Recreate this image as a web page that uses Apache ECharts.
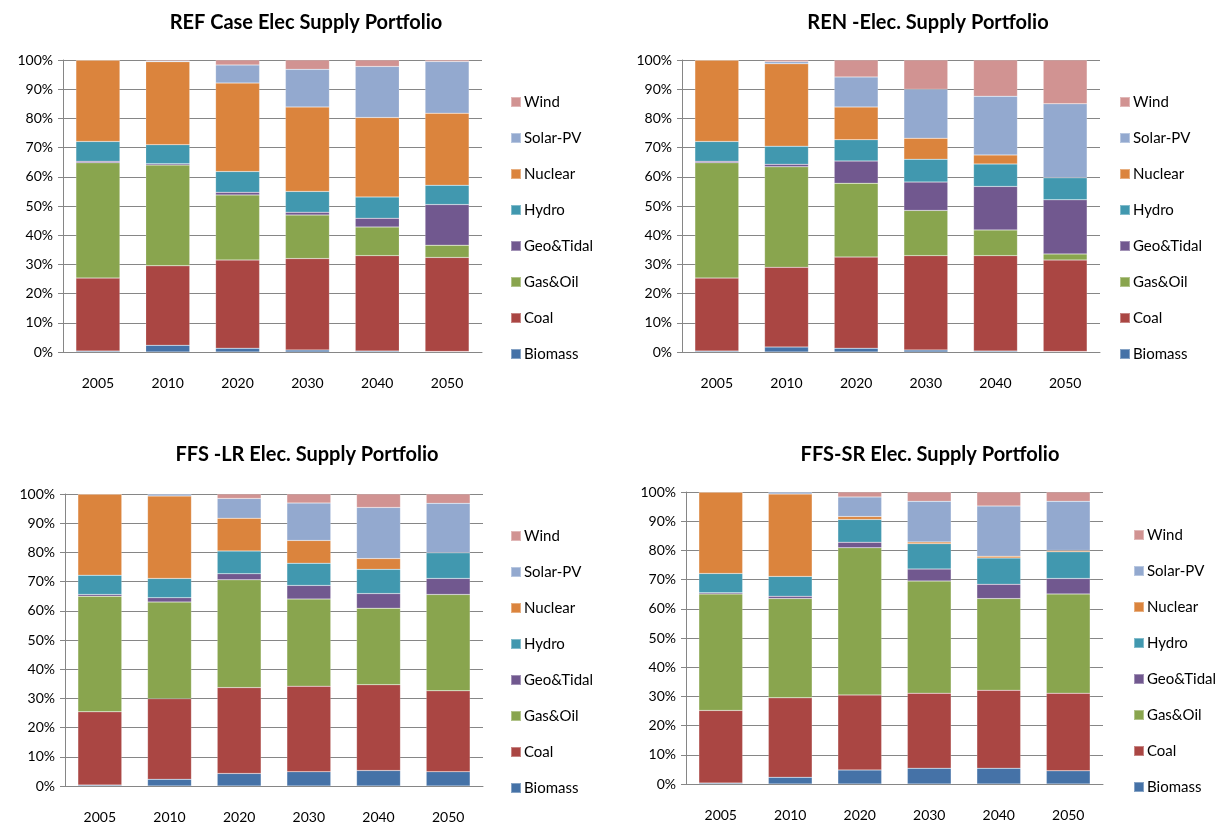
<!DOCTYPE html>
<html>
<head>
<meta charset="utf-8">
<title>Elec Supply Portfolio</title>
<script src="https://cdn.jsdelivr.net/npm/echarts@6/dist/echarts.min.js"></script>
<style>
  html, body { margin: 0; padding: 0; background: #fff; }
  #main { width: 1224px; height: 829px; }
</style>
</head>
<body>
<div id="main"></div>
<script>
// categories + legend order
var years = ['2005', '2010', '2020', '2030', '2040', '2050'];
var sources = ['Biomass', 'Coal', 'Gas&Oil', 'Geo&Tidal', 'Hydro', 'Nuclear', 'Solar-PV', 'Wind'];
var yTicks = [0, 10, 20, 30, 40, 50, 60, 70, 80, 90, 100];

// REF case (% share)
var refBiomass = [0.3, 2.3, 1.3, 0.7, 0.3, 0.2];
var refCoal    = [25.0, 27.2, 30.2, 31.3, 32.7, 32.2];
var refGas     = [39.5, 34.5, 22.3, 14.9, 9.8, 4.2];
var refGeo     = [0.5, 0.5, 0.9, 1.0, 3.0, 13.9];
var refHydro   = [6.8, 6.5, 7.1, 7.1, 7.3, 6.6];
var refNuclear = [27.9, 28.4, 30.3, 28.9, 27.2, 24.7];
var refSolar   = [0, 0.3, 6.2, 12.9, 17.5, 17.7];
var refWind    = [0, 0.3, 1.7, 3.2, 2.2, 0.5];

// REN
var renBiomass = [0.3, 1.7, 1.3, 0.7, 0.3, 0.2];
var renCoal    = [25.0, 27.3, 31.2, 32.3, 32.7, 31.3];
var renGas     = [39.5, 34.4, 25.3, 15.5, 8.8, 2.1];
var renGeo     = [0.5, 0.9, 7.6, 9.7, 14.9, 18.5];
var renHydro   = [6.8, 6.2, 7.3, 7.8, 7.7, 7.6];
var renNuclear = [27.9, 28.2, 11.2, 7.2, 3.1, 0];
var renSolar   = [0, 0.7, 10.3, 16.8, 20.1, 25.3];
var renWind    = [0, 0.6, 5.8, 10.0, 12.4, 15.0];

// FFS-LR
var lrBiomass = [0.3, 2.3, 4.3, 4.9, 5.3, 4.9];
var lrCoal    = [25.1, 27.6, 29.4, 29.3, 29.4, 27.7];
var lrGas     = [39.6, 33.1, 36.9, 29.8, 26.2, 33.0];
var lrGeo     = [0.6, 1.5, 2.1, 4.7, 5.0, 5.5];
var lrHydro   = [6.6, 6.6, 7.8, 7.6, 8.3, 8.8];
var lrNuclear = [27.8, 28.2, 11.2, 7.8, 3.7, 0];
var lrSolar   = [0, 0.7, 6.8, 12.8, 17.5, 16.9];
var lrWind    = [0, 0, 1.5, 3.1, 4.6, 3.2];

// FFS-SR
var srBiomass = [0.3, 2.3, 4.8, 5.4, 5.4, 4.5];
var srCoal    = [24.9, 27.2, 25.7, 25.7, 26.7, 26.6];
var srGas     = [39.9, 34.0, 50.4, 38.4, 31.4, 34.0];
var srGeo     = [0.4, 0.8, 1.9, 4.1, 4.9, 5.3];
var srHydro   = [6.6, 6.8, 7.8, 8.7, 9.0, 9.1];
var srNuclear = [27.9, 28.2, 1.0, 0.6, 0.6, 0.5];
var srSolar   = [0, 0.7, 6.7, 13.9, 17.2, 16.8];
var srWind    = [0, 0, 1.7, 3.2, 4.8, 3.2];

var colors = ['#4572A7', '#AA4643', '#89A54E', '#71588F', '#4198AF', '#DB843D', '#93A9CF', '#D19392'];

var panels = [
  { title: 'REF Case Elec Supply Portfolio', cx: 301, ty: 8,
    grid: { left: 63, top: 60, width: 419, height: 292 }, legend: { left: 505, top: 88 },
    data: [refBiomass, refCoal, refGas, refGeo, refHydro, refNuclear, refSolar, refWind] },
  { title: 'REN -Elec. Supply Portfolio', cx: 923, ty: 8,
    grid: { left: 682, top: 60, width: 418, height: 292 }, legend: { left: 1114, top: 88 },
    data: [renBiomass, renCoal, renGas, renGeo, renHydro, renNuclear, renSolar, renWind] },
  { title: 'FFS -LR Elec. Supply Portfolio', cx: 302, ty: 440,
    grid: { left: 65, top: 494, width: 418, height: 292 }, legend: { left: 505, top: 522 },
    data: [lrBiomass, lrCoal, lrGas, lrGeo, lrHydro, lrNuclear, lrSolar, lrWind] },
  { title: 'FFS-SR Elec. Supply Portfolio', cx: 925, ty: 440,
    grid: { left: 686, top: 492, width: 417, height: 292 }, legend: { left: 1128, top: 521 },
    data: [srBiomass, srCoal, srGas, srGeo, srHydro, srNuclear, srSolar, srWind] }
];

var font = 'Lato, "Open Sans", sans-serif';
var option = {
  backgroundColor: '#fff',
  animation: false,
  color: colors,
  title: [], grid: [], xAxis: [], yAxis: [], legend: [], series: []
};

panels.forEach(function (p, i) {
  option.title.push({
    text: p.title, left: p.cx, top: p.ty, textAlign: 'center',
    textStyle: { fontFamily: font, fontSize: 20, fontWeight: 'bold', color: '#000' }
  });
  option.grid.push(p.grid);
  option.xAxis.push({
    type: 'category', gridIndex: i, data: years,
    axisLine: { lineStyle: { color: '#868686' } },
    axisTick: { show: false },
    axisLabel: { color: '#000', fontFamily: font, fontSize: 14, margin: 24 }
  });
  option.yAxis.push({
    type: 'value', gridIndex: i, min: 0, max: 100, interval: 10,
    axisLine: { show: true, lineStyle: { color: '#868686' } },
    axisTick: { show: true, length: 5, lineStyle: { color: '#868686' } },
    splitLine: { lineStyle: { color: '#868686', width: 1 } },
    axisLabel: { color: '#000', fontFamily: font, fontSize: 14, margin: 10,
      formatter: function (v) { return yTicks.indexOf(v) >= 0 ? v + '%' : ''; } }
  });
  option.legend.push({
    orient: 'vertical', left: p.legend.left, top: p.legend.top,
    data: sources.slice().reverse(),
    icon: 'rect', itemWidth: 10, itemHeight: 10, itemGap: 18,
    textStyle: { fontFamily: font, fontSize: 15, color: '#000', lineHeight: 18, padding: [0, 0, 0, -2] }
  });
  sources.forEach(function (s, k) {
    option.series.push({
      name: s, type: 'bar', stack: 'p' + i,
      xAxisIndex: i, yAxisIndex: i,
      barWidth: '63%',
      data: p.data[k],
      itemStyle: { color: colors[k], borderColor: 'rgba(255,255,255,0.35)', borderWidth: 0.5 }
    });
  });
});

var myChart = echarts.init(document.getElementById('main'));
myChart.setOption(option);
</script>
</body>
</html>
